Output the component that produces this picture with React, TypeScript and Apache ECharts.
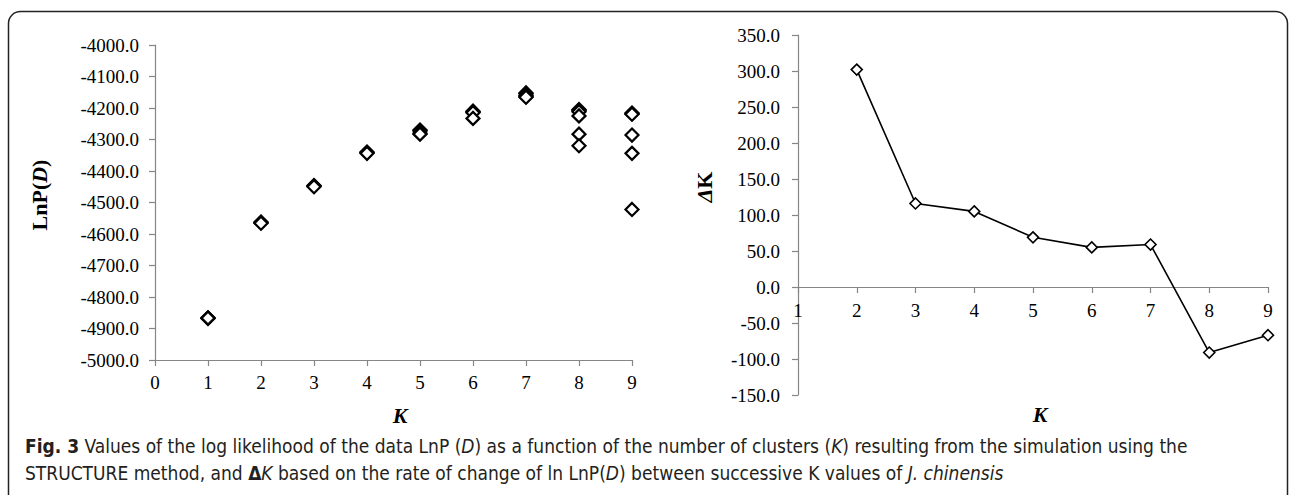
import React, { useEffect, useRef } from "react";
import * as echarts from "echarts";

// ---- Data ----
const kValues = [1, 2, 3, 4, 5, 6, 7, 8, 9];
// LnP(D) of the replicate runs for each K
const lnpRunsK1 = [-4866, -4868, -4867];
const lnpRunsK2 = [-4562, -4564, -4566];
const lnpRunsK3 = [-4446, -4448, -4450];
const lnpRunsK4 = [-4340, -4342, -4344];
const lnpRunsK5 = [-4270, -4273, -4280, -4283];
const lnpRunsK6 = [-4210, -4213, -4215, -4233];
const lnpRunsK7 = [-4152, -4155, -4160, -4164, -4166];
const lnpRunsK8 = [-4205, -4208, -4212, -4225, -4283, -4320];
const lnpRunsK9 = [-4216, -4218, -4220, -4286, -4344, -4522];
const lnpRuns = [lnpRunsK1, lnpRunsK2, lnpRunsK3, lnpRunsK4, lnpRunsK5, lnpRunsK6, lnpRunsK7, lnpRunsK8, lnpRunsK9];

const deltaKCategories = [2, 3, 4, 5, 6, 7, 8, 9];
const deltaKValues = [302, 116, 105, 69, 55, 59, -91, -67];

const captionLine1 =
  "{b|Fig. 3} Values of the log likelihood of the data LnP ({i|D}) as a function of the number of clusters ({i|K}) resulting from the simulation using the";
const captionLine2 =
  "STRUCTURE method, and {b|\u0394}{i|K} based on the rate of change of ln LnP({i|D}) between successive K values of {i|J. chinensis}";

const SERIF = "'Liberation Serif', 'Times New Roman', serif";
const CAPTION_FONT = "'Liberation Sans Narrow', 'DejaVu Sans Condensed', 'Open Sans', sans-serif";
const AXIS_COLOR = "#868686";

export default function App() {
  const ref = useRef<HTMLDivElement>(null);

  useEffect(() => {
    if (!ref.current) return;
    const chart = echarts.init(ref.current, undefined, { renderer: "svg" });

    const scatterData: number[][] = [];
    kValues.forEach((k, i) => {
      lnpRuns[i].forEach((v) => scatterData.push([k, v]));
    });
    const lineData = deltaKCategories.map((k, i) => [k, deltaKValues[i]]);

    const axisCommon = {
      axisLine: { show: true, onZero: false, lineStyle: { color: AXIS_COLOR, width: 1.2 } },
      axisTick: { show: true, length: 6, lineStyle: { color: AXIS_COLOR, width: 1.2 } },
      splitLine: { show: false },
    };
    const labelCommon = {
      fontFamily: SERIF,
      fontSize: 19,
      color: "#000",
    };

    const CAP_SIZE = 19;
    const capStyle = { fontFamily: CAPTION_FONT, fontSize: CAP_SIZE, fill: "#231f20" };
    const capRich = {
      b: { fontFamily: CAPTION_FONT, fontSize: CAP_SIZE, fontWeight: "bold", fill: "#231f20" },
      i: { fontFamily: CAPTION_FONT, fontSize: CAP_SIZE, fontStyle: "italic", fill: "#231f20" },
    };
    const nameRich = {
      a: { fontFamily: SERIF, fontSize: 22, fontWeight: "bold", fill: "#000" },
      i: { fontFamily: SERIF, fontSize: 22, fontWeight: "bold", fontStyle: "italic", fill: "#000" },
    };

    // right grid geometry: zero line offset from the bottom edge
    const rightGridTop = 35;
    const rightGridHeight = 360;
    const rightMin = -150;
    const rightMax = 350;
    const zeroOffset = (rightGridHeight * (0 - rightMin)) / (rightMax - rightMin);

    chart.setOption({
      animation: false,
      backgroundColor: "#fff",
      grid: [
        { left: 155, top: 45, width: 477, height: 315 },
        { left: 798, top: rightGridTop, width: 470, height: rightGridHeight },
      ],
      xAxis: [
        {
          type: "value",
          gridIndex: 0,
          min: 0,
          max: 9,
          interval: 1,
          ...axisCommon,
          axisLabel: { ...labelCommon, margin: 13 },
        },
        {
          type: "value",
          gridIndex: 1,
          min: 1,
          max: 9,
          interval: 1,
          position: "bottom",
          offset: -zeroOffset,
          ...axisCommon,
          axisLabel: { ...labelCommon, margin: 14 },
        },
      ],
      yAxis: [
        {
          type: "value",
          gridIndex: 0,
          min: -5000,
          max: -4000,
          interval: 100,
          ...axisCommon,
          axisLabel: { ...labelCommon, margin: 16, formatter: (v: number) => v.toFixed(1) },
        },
        {
          type: "value",
          gridIndex: 1,
          min: rightMin,
          max: rightMax,
          interval: 50,
          ...axisCommon,
          axisLabel: { ...labelCommon, margin: 18, formatter: (v: number) => v.toFixed(1) },
        },
      ],
      series: [
        {
          type: "scatter",
          xAxisIndex: 0,
          yAxisIndex: 0,
          data: scatterData,
          symbol: "diamond",
          symbolSize: 13,
          itemStyle: { color: "#fff", borderColor: "#000", borderWidth: 2.2, opacity: 1 },
          emphasis: { disabled: true },
        },
        {
          type: "line",
          xAxisIndex: 1,
          yAxisIndex: 1,
          data: lineData,
          symbol: "diamond",
          symbolSize: 11,
          showAllSymbol: true,
          lineStyle: { color: "#000", width: 1.6 },
          itemStyle: { color: "#fff", borderColor: "#000", borderWidth: 1.6 },
          emphasis: { disabled: true },
        },
      ],
      graphic: [
        {
          type: "rect",
          shape: { x: 8.5, y: 11.5, width: 1279, height: 520, r: [12, 12, 0, 0] },
          style: { fill: "none", stroke: "#222", lineWidth: 1.5 },
          silent: true,
        },
        {
          type: "text",
          x: 39,
          y: 195,
          rotation: Math.PI / 2,
          style: {
            text: "{a|LnP(}{i|D}{a|)}",
            rich: nameRich,
            align: "center",
            verticalAlign: "middle",
            textAlign: "center",
            textVerticalAlign: "middle",
          },
        },
        {
          type: "text",
          x: 704,
          y: 187,
          rotation: Math.PI / 2,
          style: {
            text: "{i|\u0394}{a|K}",
            rich: nameRich,
            align: "center",
            verticalAlign: "middle",
            textAlign: "center",
            textVerticalAlign: "middle",
          },
        },
        {
          type: "text",
          x: 400,
          y: 415,
          style: {
            text: "K",
            font: `italic bold 22px ${SERIF}`,
            fill: "#000",
            align: "center",
            verticalAlign: "middle",
            textAlign: "center",
            textVerticalAlign: "middle",
          },
        },
        {
          type: "text",
          x: 1040,
          y: 414,
          style: {
            text: "K",
            font: `italic bold 22px ${SERIF}`,
            fill: "#000",
            align: "center",
            verticalAlign: "middle",
            textAlign: "center",
            textVerticalAlign: "middle",
          },
        },
        {
          type: "text",
          x: 25,
          y: 446,
          style: {
            text: captionLine1,
            ...capStyle,
            rich: capRich,
            verticalAlign: "middle",
            textVerticalAlign: "middle",
          },
        },
        {
          type: "text",
          x: 25,
          y: 473,
          style: {
            text: captionLine2,
            ...capStyle,
            rich: capRich,
            verticalAlign: "middle",
            textVerticalAlign: "middle",
          },
        },
      ],
    });

    return () => chart.dispose();
  }, []);

  return (
    <div
      ref={ref}
      style={{ position: "absolute", left: 0, top: 0, width: 1292, height: 495, background: "#fff" }}
    />
  );
}
